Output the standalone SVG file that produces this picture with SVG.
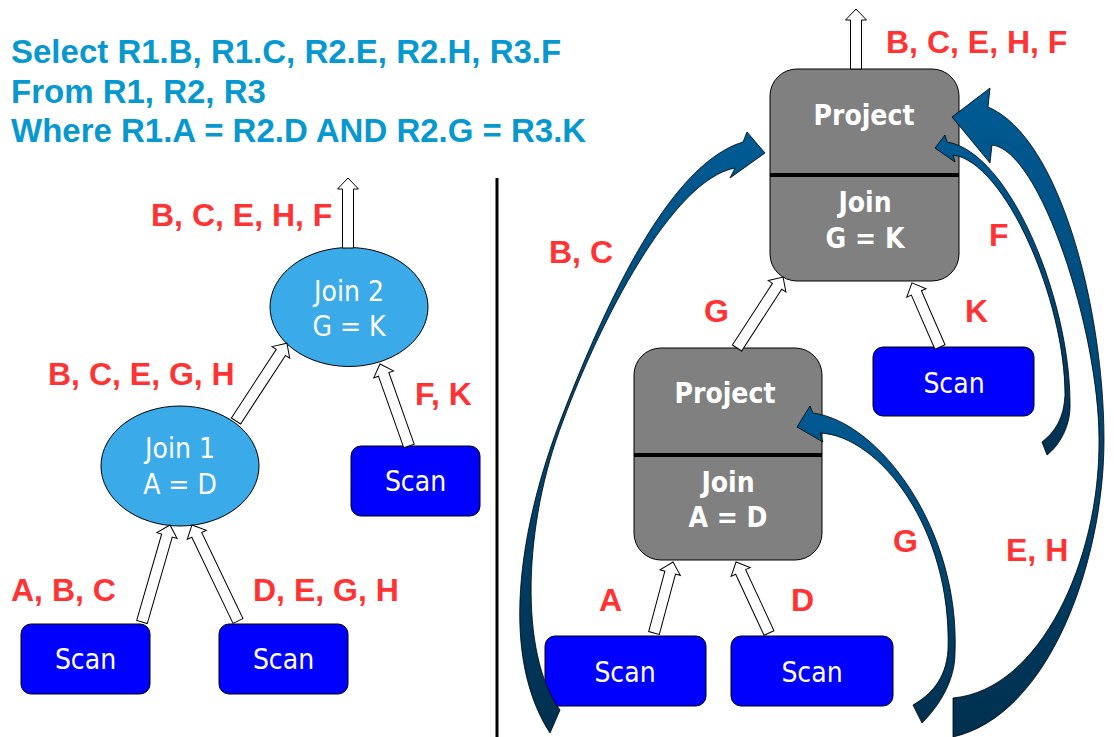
<svg xmlns="http://www.w3.org/2000/svg" width="1114" height="737" viewBox="0 0 1114 737">
<defs>
<linearGradient id="ribbon" x1="0" y1="0" x2="0" y2="1">
<stop offset="0" stop-color="#005B94"/>
<stop offset="1" stop-color="#00304F"/>
</linearGradient>
</defs>
<style>
.sql{font-family:"Liberation Sans",Arial,sans-serif;font-weight:bold;font-size:33px;fill:#0798D0}
.lbl{font-family:"Liberation Sans",Arial,sans-serif;font-weight:bold;font-size:32px;fill:#FF3333}
.ell{fill:#3BAAE9;stroke:#000;stroke-width:1}
.scan{fill:#0000FF;stroke:#000;stroke-width:1}
.op{fill:#808080;stroke:#000;stroke-width:1}
.div{stroke:#000;stroke-width:4}
.nt{font-family:"DejaVu Sans Condensed","DejaVu Sans",sans-serif;font-size:28px;fill:#fff;text-anchor:middle}
.bt{font-family:"DejaVu Sans Condensed","DejaVu Sans",sans-serif;font-size:28px;font-weight:bold;fill:#fff;text-anchor:middle}
.ha{fill:#fff;stroke:#000;stroke-width:1}
.rb{fill:url(#ribbon);stroke:#000;stroke-width:0.8}
</style>
<rect width="1114" height="737" fill="#fff"/>

<g id="query">
<text class="sql" x="11" y="63">Select R1.B, R1.C, R2.E, R2.H, R3.F</text>
<text class="sql" x="11" y="103">From R1, R2, R3</text>
<text class="sql" x="11" y="142">Where R1.A = R2.D AND R2.G = R3.K</text>
</g>

<line id="separator" x1="497" y1="178" x2="497" y2="737" stroke="#000" stroke-width="3"/>

<g id="join2">
<ellipse class="ell" cx="349" cy="307" rx="79" ry="59.5"/>
<text class="nt" x="349" y="301">Join 2</text>
<text class="nt" x="349" y="336">G = K</text>
</g>
<g id="join1">
<ellipse class="ell" cx="180" cy="466" rx="79" ry="60"/>
<text class="nt" x="180" y="458">Join 1</text>
<text class="nt" x="180" y="494">A = D</text>
</g>
<g id="scanL1">
<rect class="scan" x="21" y="624" width="129" height="70" rx="10"/>
<text class="nt" x="85.5" y="669">Scan</text>
</g>
<g id="scanL2">
<rect class="scan" x="219" y="624" width="129" height="70" rx="10"/>
<text class="nt" x="283.5" y="669">Scan</text>
</g>
<g id="scanL3">
<rect class="scan" x="351" y="446" width="129" height="70" rx="10"/>
<text class="nt" x="415.5" y="491">Scan</text>
</g>

<g id="opTop">
<rect class="op" x="770" y="69" width="189" height="212" rx="27"/>
<line class="div" x1="770" y1="175" x2="959" y2="175"/>
<text class="bt" x="864" y="125">Project</text>
<text class="bt" x="865" y="212">Join</text>
<text class="bt" x="865" y="248">G = K</text>
</g>
<g id="opLow">
<rect class="op" x="634" y="348" width="188" height="212" rx="27"/>
<line class="div" x1="634" y1="455" x2="822" y2="455"/>
<text class="bt" x="725" y="403">Project</text>
<text class="bt" x="728" y="492">Join</text>
<text class="bt" x="728" y="527">A = D</text>
</g>
<g id="scanK">
<rect class="scan" x="873" y="347" width="161" height="69" rx="10"/>
<text class="nt" x="954" y="393">Scan</text>
</g>
<g id="scanA">
<rect class="scan" x="545" y="636" width="161" height="70" rx="10"/>
<text class="nt" x="625" y="682">Scan</text>
</g>
<g id="scanD">
<rect class="scan" x="731" y="636" width="162" height="70" rx="10"/>
<text class="nt" x="812" y="682">Scan</text>
</g>

<g id="connectors">
<path class="ha" transform="translate(142,622) rotate(16.1)" d="M-5.5,0 V-90 H-10.5 L0,-101 L10.5,-90 H5.5 V0 Z"/>
<path class="ha" transform="translate(238,621) rotate(-25.6)" d="M-5.5,0 V-95.5 H-10.5 L0,-106.5 L10.5,-95.5 H5.5 V0 Z"/>
<path class="ha" transform="translate(409,446) rotate(-19.5)" d="M-5.5,0 V-76 H-10.5 L0,-87 L10.5,-76 H5.5 V0 Z"/>
<path class="ha" transform="translate(236,421) rotate(33.2)" d="M-5.5,0 V-82 H-10.5 L0,-93 L10.5,-82 H5.5 V0 Z"/>
<path class="ha" transform="translate(348,248)" d="M-5.5,0 V-59 H-10.5 L0,-70 L10.5,-59 H5.5 V0 Z"/>
<path class="ha" transform="translate(856,69)" d="M-5.5,0 V-49 H-10.5 L0,-60 L10.5,-49 H5.5 V0 Z"/>
<path class="ha" transform="translate(737,348) rotate(33)" d="M-5.5,0 V-73.6 H-10.5 L0,-84.6 L10.5,-73.6 H5.5 V0 Z"/>
<path class="ha" transform="translate(940,347) rotate(-23.6)" d="M-5.5,0 V-59 H-10.5 L0,-70 L10.5,-59 H5.5 V0 Z"/>
<path class="ha" transform="translate(654,633) rotate(15)" d="M-5.5,0 V-62.5 H-10.5 L0,-73.5 L10.5,-62.5 H5.5 V0 Z"/>
<path class="ha" transform="translate(769,633) rotate(-24.9)" d="M-5.5,0 V-67.3 H-10.5 L0,-78.3 L10.5,-67.3 H5.5 V0 Z"/>

<path class="rb" d="M550,733 L560,710 C518.7,653.3 523.4,523.3 563,421 C600,322 672,180 735,168 L730,178 L765,153 L747,132 L743,142 C666,165 600.6,316.7 561,419 C525,512 495,648 550,733 Z"/>
<path class="rb" d="M953,737 L953,698 C1040,690 1100,560 1099,440 C1099,330 1040,150 992,145 L990,163 L952,117 L990,88 L988,107 C1060,137 1104,310 1104,440 C1104,560 1050,715 953,737 Z"/>
<path class="rb" d="M1042,442 C1055,432 1064,418 1065,395 C1065,300 1005,162 953,155 L955,162 L935,148 L945,135 L947,142 C1010,152 1070,300 1070,403 C1071,425 1060,445 1047,455 Z"/>
<path class="rb" d="M913,705 C930,695 946,680 948,650 C952,530 880,436 820,433 L823,442 L797,427 L810,406 L813,413 C880,422 960,530 955,653 C955,680 940,705 922,723 Z"/>
</g>

<g id="labels">
<text class="lbl" x="151" y="226">B, C, E, H, F</text>
<text class="lbl" x="48" y="385">B, C, E, G, H</text>
<text class="lbl" x="415" y="405">F, K</text>
<text class="lbl" x="11" y="601">A, B, C</text>
<text class="lbl" x="253" y="601">D, E, G, H</text>
<text class="lbl" x="886" y="53">B, C, E, H, F</text>
<text class="lbl" x="549" y="263">B, C</text>
<text class="lbl" x="989" y="246">F</text>
<text class="lbl" x="704" y="322">G</text>
<text class="lbl" x="965" y="322">K</text>
<text class="lbl" x="599" y="611">A</text>
<text class="lbl" x="791" y="611">D</text>
<text class="lbl" x="893" y="552">G</text>
<text class="lbl" x="1006" y="561">E, H</text>
</g>
</svg>
